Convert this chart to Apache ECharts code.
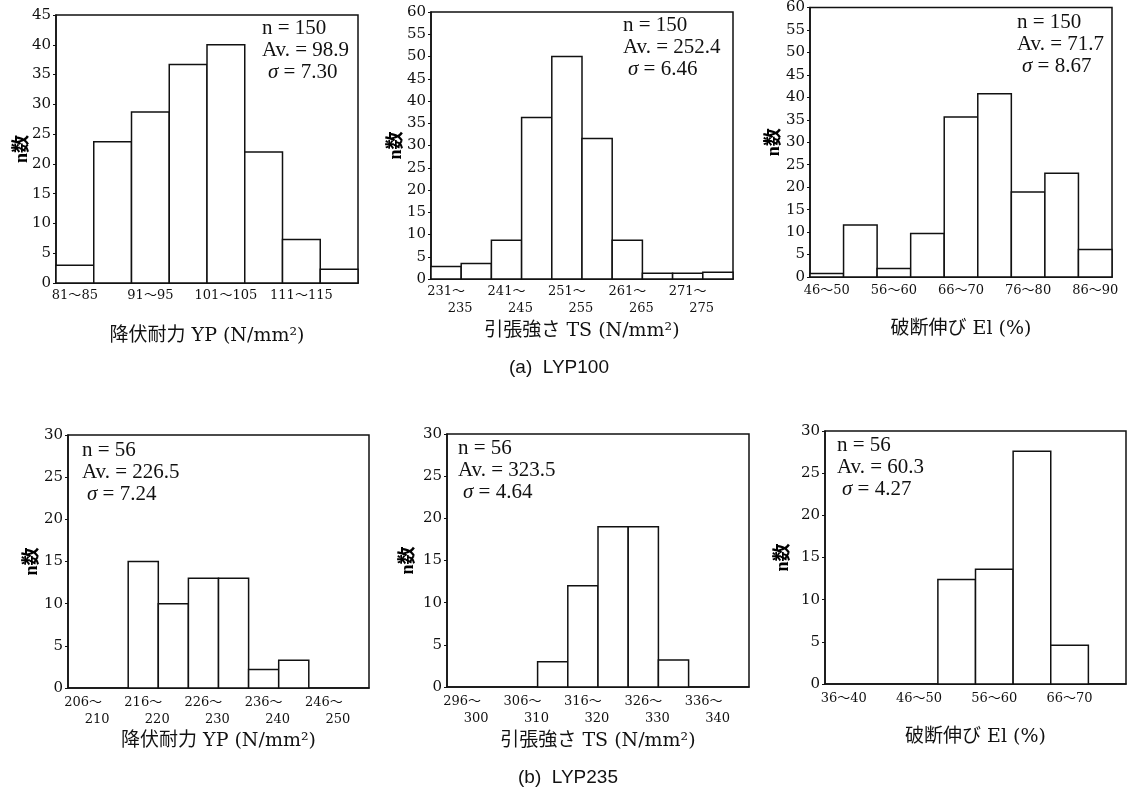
<!DOCTYPE html>
<html>
<head>
<meta charset="utf-8">
<script src="https://cdn.jsdelivr.net/npm/echarts@6/dist/echarts.min.js"></script>
<style>
html,body{margin:0;padding:0;background:#fff;}
#c{width:1128px;height:791px;}
</style>
</head>
<body>
<div id="c"></div>
<script>
// ---------- DATA ----------
// (a) LYP100
const ypACats = ['81～85','86～90','91～95','96～100','101～105','106～110','111～115','116～120'];
const ypAVals = [3, 23.7, 28.7, 36.7, 40, 22, 7.3, 2.3];
const tsACats = ['231～235','236～240','241～245','246～250','251～255','256～260','261～265','266～270','271～275','276～280'];
const tsAVals = [2.8, 3.5, 8.7, 36.3, 50, 31.6, 8.7, 1.3, 1.3, 1.5];
const elACats = ['46～50','51～55','56～60','61～65','66～70','71～75','76～80','81～85','86～90'];
const elAVals = [0.8, 11.6, 1.9, 9.7, 35.6, 40.8, 18.9, 23.1, 6.1];
// (b) LYP235
const ypBCats = ['206～210','211～215','216～220','221～225','226～230','231～235','236～240','241～245','246～250','251～255'];
const ypBVals = [0, 0, 15, 10, 13, 13, 2.2, 3.3, 0, 0];
const tsBCats = ['296～300','301～305','306～310','311～315','316～320','321～325','326～330','331～335','336～340','341～345'];
const tsBVals = [0, 0, 0, 3, 12, 19, 19, 3.2, 0, 0];
const elBCats = ['36～40','41～45','46～50','51～55','56～60','61～65','66～70','71～75'];
const elBVals = [0, 0, 0, 12.4, 13.6, 27.6, 4.6, 0];

// y-axis maxima
const yMaxes = [45, 60, 60, 30, 30, 30];

// statistics text
const statN  = ['n = 150', 'n = 150', 'n = 150', 'n = 56', 'n = 56', 'n = 56'];
const statAv = ['Av. = 98.9', 'Av. = 252.4', 'Av. = 71.7', 'Av. = 226.5', 'Av. = 323.5', 'Av. = 60.3'];
const statSd = ['7.30', '6.46', '8.67', '7.24', '4.64', '4.27'];

// axis titles
const xTitles = ['降伏耐力 YP (N/mm²)', '引張強さ TS (N/mm²)', '破断伸び El (%)',
                 '降伏耐力 YP (N/mm²)', '引張強さ TS (N/mm²)', '破断伸び El (%)'];
const yTitle = 'n数';
const captions = ['(a)  LYP100', '(b)  LYP235'];

// ---------- LAYOUT ----------
const SERIF = "'Liberation Serif','Noto Sans CJK JP',serif";
const WSERIF = "'DejaVu Serif','Noto Sans CJK JP',serif";
const SANS = "'Liberation Sans','Noto Sans',sans-serif";
const INK = '#111';

const panels = [
  {cats: ypACats, vals: ypAVals, twoLine: false, grid: {left: 56, top: 15, width: 302, height: 268}, lblMargin: 4, nameGap: 44, yNameGap: 25, stat: [262, 28, 268]},
  {cats: tsACats, vals: tsAVals, twoLine: true,  grid: {left: 431, top: 12, width: 302, height: 267}, lblMargin: 4, nameGap: 43, yNameGap: 26, stat: [623, 25, 628]},
  {cats: elACats, vals: elAVals, twoLine: false, grid: {left: 810, top: 7, width: 302, height: 270}, lblMargin: 5, nameGap: 43, yNameGap: 27, stat: [1017, 22, 1022]},
  {cats: ypBCats, vals: ypBVals, twoLine: true,  grid: {left: 68, top: 435, width: 301, height: 253}, lblMargin: 6, nameGap: 44, yNameGap: 27, stat: [82, 450, 87]},
  {cats: tsBCats, vals: tsBVals, twoLine: true,  grid: {left: 447, top: 434, width: 302, height: 253}, lblMargin: 6, nameGap: 45, yNameGap: 30, stat: [458, 448, 463]},
  {cats: elBCats, vals: elBVals, twoLine: false, grid: {left: 825, top: 431, width: 301, height: 253}, lblMargin: 6, nameGap: 44, yNameGap: 33, stat: [837, 445, 842]}
];

function renderBar(params, api) {
  const idx = api.value(0), v = api.value(1);
  if (!v) return null;
  const base = api.coord([idx, 0]);
  const top = api.coord([idx, v]);
  const w = api.size([1, 0])[0];
  return {
    type: 'rect',
    shape: {x: base[0] - w / 2, y: top[1], width: w, height: base[1] - top[1]},
    style: {fill: '#fff', stroke: INK, lineWidth: 1.5}
  };
}

const grids = [], xAxes = [], yAxes = [], series = [], graphics = [];

panels.forEach((p, i) => {
  grids.push(Object.assign({show: true, borderColor: INK, borderWidth: 1.5, backgroundColor: 'transparent', containLabel: false}, p.grid));
  xAxes.push({
    type: 'category', gridIndex: i, data: p.cats,
    axisLine: {show: true, lineStyle: {color: INK, width: 1.5}},
    axisTick: {show: false},
    axisLabel: {
      interval: 1, margin: p.lblMargin, color: INK, fontFamily: WSERIF, fontSize: 13,
      lineHeight: 17,
      formatter: p.twoLine ? function (v) {
        const parts = v.split('～');
        return '{a|' + parts[0] + '～}\n{b|' + parts[1] + '}';
      } : null,
      rich: p.twoLine ? {
        a: {fontFamily: WSERIF, fontSize: 13, color: INK, lineHeight: 17},
        b: {fontFamily: WSERIF, fontSize: 13, color: INK, lineHeight: 17, padding: [0, 0, 0, 28]}
      } : undefined
    },
    name: xTitles[i], nameLocation: 'middle', nameGap: p.nameGap, nameMoveOverlap: false,
    nameTextStyle: {fontFamily: WSERIF, fontSize: 19, color: INK}
  });
  yAxes.push({
    type: 'value', gridIndex: i, min: 0, max: yMaxes[i], interval: 5,
    splitLine: {show: false},
    axisLine: {show: true, lineStyle: {color: INK, width: 1.5}},
    axisTick: {show: true, length: 3, lineStyle: {color: INK}},
    axisLabel: {color: INK, fontFamily: WSERIF, fontSize: 15, margin: 5},
    name: yTitle, nameLocation: 'middle', nameRotate: 90, nameGap: p.yNameGap, nameMoveOverlap: false,
    nameTextStyle: {fontFamily: SERIF, fontSize: 18, color: '#000', fontWeight: 'bold'}
  });
  series.push({
    type: 'custom', xAxisIndex: i, yAxisIndex: i,
    data: p.vals.map((v, k) => [k, v]),
    encode: {x: 0, y: 1},
    renderItem: renderBar, silent: true, animation: false
  });
  const [sx, sy, sgx] = p.stat;
  const font = '21px ' + SERIF;
  graphics.push({type: 'text', x: sx, y: sy, style: {text: statN[i], font: font, fill: INK, verticalAlign: 'middle', textVerticalAlign: 'middle'}});
  graphics.push({type: 'text', x: sx, y: sy + 22, style: {text: statAv[i], font: font, fill: INK, verticalAlign: 'middle', textVerticalAlign: 'middle'}});
  graphics.push({type: 'text', x: sgx, y: sy + 44, style: {
    text: '{i|σ} = ' + statSd[i], font: font, fill: INK, verticalAlign: 'middle', textVerticalAlign: 'middle',
    rich: {i: {fontStyle: 'italic', fontFamily: SERIF, fontSize: 21, fill: INK}}
  }});
});

graphics.push({type: 'text', x: 559, y: 368, style: {text: captions[0], font: '19px ' + SANS, fill: INK, align: 'center', textAlign: 'center', verticalAlign: 'middle', textVerticalAlign: 'middle'}});
graphics.push({type: 'text', x: 568, y: 778, style: {text: captions[1], font: '19px ' + SANS, fill: INK, align: 'center', textAlign: 'center', verticalAlign: 'middle', textVerticalAlign: 'middle'}});

const chart = echarts.init(document.getElementById('c'), null, {renderer: 'canvas'});
chart.setOption({
  backgroundColor: '#fff',
  animation: false,
  grid: grids, xAxis: xAxes, yAxis: yAxes, series: series,
  graphic: graphics
});
</script>
</body>
</html>
